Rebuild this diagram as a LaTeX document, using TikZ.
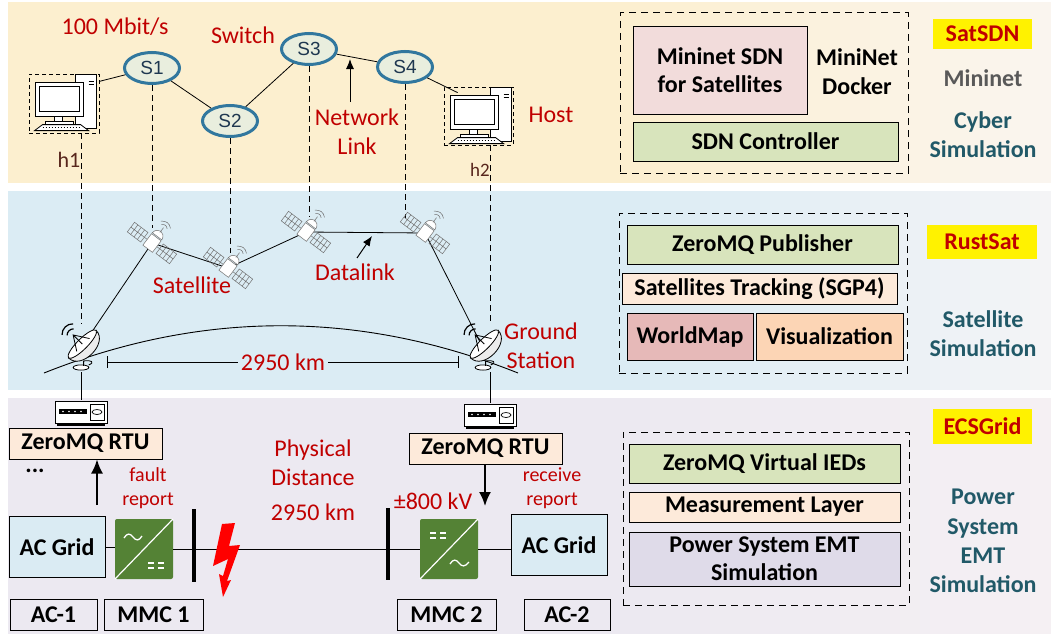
\documentclass[tikz,border=0pt]{standalone}
\usepackage{fontspec}
\setmainfont{Carlito}
\newfontfamily\arialfont{Liberation Sans}
\usepackage{tikz}
\usepackage{xcolor}
\usetikzlibrary{shapes.geometric}
\usetikzlibrary{arrows.meta}

\definecolor{cyberbg}{RGB}{252,239,207}
\definecolor{cyberfade}{RGB}{250,245,240}
\definecolor{satbg}{RGB}{219,236,244}
\definecolor{satfade}{RGB}{244,244,246}
\definecolor{gridbg}{RGB}{236,233,241}
\definecolor{gridfade}{RGB}{245,240,243}
\definecolor{txtred}{RGB}{192,0,0}
\definecolor{simteal}{RGB}{33,89,104}
\definecolor{minigray}{RGB}{89,89,89}
\definecolor{hostbrown}{RGB}{88,38,28}
\definecolor{swblue}{RGB}{49,119,158}
\definecolor{swfill}{RGB}{233,238,222}
\definecolor{swtext}{RGB}{30,55,80}
\definecolor{boxgreen}{RGB}{216,228,188}
\definecolor{boxpink}{RGB}{242,220,219}
\definecolor{boxpeach}{RGB}{253,234,218}
\definecolor{boxrose}{RGB}{230,185,184}
\definecolor{boxtan}{RGB}{252,213,181}
\definecolor{boxlilac}{RGB}{223,219,233}
\definecolor{acblue}{RGB}{218,235,243}
\definecolor{mmcgreen}{RGB}{84,130,53}
\definecolor{boltred}{RGB}{255,0,0}
\definecolor{satgray}{RGB}{110,110,110}

\tikzset{
  lbl/.style={text=txtred, font=\fontsize{24}{29}\selectfont, align=center, inner sep=0pt},
  smalllbl/.style={lbl, font=\fontsize{20}{24}\selectfont},
  blk/.style={draw, line width=1pt, font=\bfseries\fontsize{24}{28}\selectfont, align=center, inner sep=0pt},
  blktxt/.style={font=\bfseries\fontsize{24}{29}\selectfont, align=center, inner sep=0pt},
  dashframe/.style={draw, dash pattern=on 7pt off 5pt, line width=1pt, inner sep=0pt},
  projtag/.style={fill=yellow, text=txtred, font=\bfseries\fontsize{24}{28}\selectfont, inner sep=0pt},
  simlbl/.style={text=simteal, font=\bfseries\fontsize{24}{29.3}\selectfont, align=center, inner sep=0pt},
  switchnode/.style={ellipse, draw=swblue, line width=3pt, fill=swfill, minimum width=55pt,
    minimum height=31pt, inner sep=0pt, text=swtext, font=\arialfont\fontsize{19}{20}\selectfont},
  pcbox/.style={draw, dash pattern=on 4pt off 3pt, line width=0.8pt, minimum width=70pt,
    minimum height=59pt, inner sep=0pt},
  satspot/.style={circle, minimum size=30pt, inner sep=0pt},
  dishspot/.style={circle, minimum size=48pt, inner sep=0pt},
  rtuspot/.style={minimum width=52pt, minimum height=25pt, inner sep=0pt},
  mmc/.style={fill=mmcgreen, rounded corners=2pt, minimum width=58pt, minimum height=60pt, inner sep=0pt},
  acbox/.style={blk, fill=acblue, minimum width=96pt, minimum height=61pt},
  unitlbl/.style={blk, minimum height=31pt},
  link/.style={line width=0.8pt},
  dropline/.style={dash pattern=on 6pt off 4pt, line width=0.9pt},
  bigarrow/.style={-{Latex[length=14pt,width=12pt]}, line width=2pt},
  thinarrow/.style={-{Latex[length=10pt,width=8pt]}, line width=1pt},
}

% desktop computer, drawn from the top left corner of its node
\newcommand{\pcicon}[1]{%
  \begin{scope}[shift={(#1.north west)}]
    \filldraw[fill=white, line width=0.8pt] (47,1) rectangle (68,55);
    \draw[line width=0.8pt] (60,8) -- (65,8) (60,11) -- (65,11);
    \filldraw[fill=white, line width=1.3pt] (7,9) rectangle (55,43);
    \draw[line width=0.8pt] (11,13) rectangle (51,38);
    \filldraw[fill=white, line width=0.8pt] (26,43) rectangle (34,48);
    \filldraw[fill=white, line width=0.8pt] (17,48) rectangle (45,51);
    \filldraw[fill=white, line width=0.8pt] (14,51) -- (52,51) -- (60,57) -- (6,57) -- cycle;
    \draw[dotted, line width=1pt] (14,54) -- (52,54);
  \end{scope}}

% satellite with two solar panels
\newcommand{\saticon}[1]{%
  \begin{scope}[shift={(#1)}, scale=1.2, rotate=-37, color=satgray, line width=0.5pt]
    \draw (-22,-5) rectangle (-8,5) (8,-5) rectangle (22,5);
    \draw (-18.5,-5) -- (-18.5,5) (-15,-5) -- (-15,5) (-11.5,-5) -- (-11.5,5) (-22,0) -- (-8,0);
    \draw (11.5,-5) -- (11.5,5) (15,-5) -- (15,5) (18.5,-5) -- (18.5,5) (8,0) -- (22,0);
    \draw (-8,0) -- (-5,0) (5,0) -- (8,0);
    \filldraw[fill=white] (-5,-6) rectangle (5,6);
    \filldraw[fill=white] (-5,-7) .. controls (-4,-14) and (4,-14) .. (5,-7) -- cycle;
    \draw (0,-11) -- (0,-16);
    \draw (-3,-17) .. controls (-1,-19) and (1,-19) .. (3,-17);
    \draw (-5,-19) .. controls (-2,-22) and (2,-22) .. (5,-19);
  \end{scope}}

% ground station dish
\newcommand{\dishicon}[1]{%
  \begin{scope}[shift={(#1)}, scale=1.3, line width=0.8pt]
    \draw (2,13) -- (2,10) .. controls (8,9) and (11,11) .. (6,13);
    \filldraw[fill=white] (0,15) ellipse [x radius=6pt, y radius=2pt];
    \draw (2,10) -- (2,13.5);
    \begin{scope}[shift={(1,-3)}, rotate=45]
      \filldraw[fill=gray!15] (-15,0) .. controls (-15,14) and (15,14) .. (15,0) -- cycle;
      \filldraw[fill=white] (0,0) ellipse [x radius=15pt, y radius=4pt];
      \draw (-7,1) -- (0,-10) -- (7,1) (0,0) -- (0,-10);
      \draw[line width=1.2pt] (-3.5,-13) .. controls (-2,-15) and (2,-15) .. (3.5,-13);
      \draw[line width=1.2pt] (-6,-16) .. controls (-3,-19.5) and (3,-19.5) .. (6,-16);
    \end{scope}
  \end{scope}}

% remote terminal unit box
\newcommand{\rtuicon}[1]{%
  \begin{scope}[shift={(#1)}]
    \fill (-24,10) rectangle (24,13);
    \filldraw[fill=white, line width=0.9pt] (-26,-12) rectangle (26,10);
    \fill (-22,-4) rectangle (6,1);
    \foreach \dx in {-18,-12,-6,0} \fill[white] (\dx,-1.5) circle (0.9pt);
    \draw[line width=0.8pt] (9,-9) rectangle (23,7);
    \draw[line width=0.7pt] (16,-1) ellipse [x radius=5pt, y radius=2.5pt];
  \end{scope}}

\begin{document}
\begin{tikzpicture}[x=1pt, y=-1pt]
    \useasboundingbox (0,0) rectangle (1051,634);

    % three layers, fading out to the right
    \fill[cyberbg] (8,2) rectangle (621,183);
    \fill[satbg] (8,191) rectangle (621,390);
    \fill[gridbg] (8,398) rectangle (621,634);
    \foreach \i [evaluate=\i as \p using \i*100/43] in {0,...,43} {
      \fill[cyberfade!\p!cyberbg] (620+\i*10,2) rectangle (631+\i*10,183);
      \fill[satfade!\p!satbg] (620+\i*10,191) rectangle (631+\i*10,390);
      \fill[gridfade!\p!gridbg] (620+\i*10,398) rectangle (631+\i*10,634);
    }

    % cyber layer
    \path (64,103.5) node [pcbox] (h1) {};
    \path (478.5,116) node [pcbox, minimum width=69pt, minimum height=58pt] (h2) {};
    \path (152,68) node [switchnode] (s1) {S1};
    \path (230,121) node [switchnode] (s2) {S2};
    \path (309,49) node [switchnode] (s3) {S3};
    \path (405,67) node [switchnode] (s4) {S4};
    \draw [link] (h1.32) -- (s1);
    \draw [link] (s1) -- (s2);
    \draw [link] (s2) -- (s3);
    \draw [link] (s3) -- (s4);
    \draw [link] (s4) -- ([shift={(14,6)}]h2.north west);
    \pcicon{h1}
    \pcicon{h2}
    \path (115,27) node [lbl] (rate) {100 Mbit/s};
    \path (243,35) node [lbl] (swlbl) {Switch};
    \path (551,115) node [lbl] (hostlbl) {Host};
    \path (357,131.5) node [lbl] (netlink) {Network\\Link};
    \coordinate (nltail) at (350,102);
    \coordinate (nlhead) at (350,59);
    \draw [thinarrow] (nltail) -- (nlhead);
    \path (69,160) node [lbl, text=hostbrown, font=\fontsize{22}{24}\selectfont] (h1lbl) {h1};
    \path (480,170) node [lbl, text=hostbrown, font=\fontsize{19}{22}\selectfont] (h2lbl) {h2};

    \path (764,93) node [dashframe, minimum width=288pt, minimum height=160pt] (cyberframe) {};
    \path (720,70.5) node [blk, fill=boxpink, minimum width=174pt, minimum height=87pt] (mnsdn) {Mininet SDN\\for Satellites};
    \path (857,72) node [blktxt] (docker) {MiniNet\\Docker};
    \path (765.5,141.5) node [blk, fill=boxgreen, minimum width=265pt, minimum height=39pt] (sdnctrl) {SDN Controller};
    \path (982.5,34) node [projtag, minimum width=99pt, minimum height=30pt] (satsdn) {SatSDN};
    \path (983,78) node [simlbl, text=minigray] (mininet) {Mininet};
    \path (983,134.5) node [simlbl] (cybersim) {Cyber\\Simulation};

    % satellite layer
    \draw [line width=0.9pt] (44,373) .. controls (202,310) and (360,310) .. (518,373);
    \coordinate (kmL) at (107,362);
    \coordinate (kmR) at (459,362);
    \draw [{Bar[width=12pt]}-{Bar[width=12pt]}, line width=0.9pt] (kmL) -- (kmR)
        node [midway, lbl, fill=satbg, inner xsep=3pt] (kmlbl) {2950 km};
    \path (152,243) node [satspot] (sat1) {};
    \path (228,268) node [satspot] (sat2) {};
    \path (306,232) node [satspot] (sat3) {};
    \path (425,233) node [satspot] (sat4) {};
    \path (81,348) node [dishspot] (gs1) {};
    \path (483,348) node [dishspot] (gs2) {};
    \path (81,413) node [rtuspot] (rtuic1) {};
    \path (490,416) node [rtuspot] (rtuic2) {};
    \draw [dropline] (h1.south -| gs1.north) -- (gs1.north);
    \draw [dropline] (s1.south) -- (s1.south |- sat1.north);
    \draw [dropline] (s2.south) -- (s2.south |- sat2.north);
    \draw [dropline] (s3.south) -- (s3.south |- sat3.north);
    \draw [dropline] (s4.south) -- (s4.south |- sat4.north);
    \draw [dropline] (h2.south -| rtuic2.north) -- (gs2.north -| rtuic2.north);
    \draw [link] (gs1.center) -- (sat1.center) -- (sat2.center) -- (sat3.center)
        -- (sat4.center) -- (gs2.center);
    \saticon{sat1}
    \saticon{sat2}
    \saticon{sat3}
    \saticon{sat4}
    \dishicon{gs1}
    \dishicon{gs2}
    \path (192,285) node [lbl] (satlbl) {Satellite};
    \path (355,272) node [lbl] (dlink) {Datalink};
    \coordinate (dltail) at (357,258);
    \coordinate (dlhead) at (372,236);
    \draw [thinarrow] (dltail) -- (dlhead);
    \path (541,346) node [lbl] (gslbl) {Ground\\Station};

    \path (763,293) node [dashframe, minimum width=288pt, minimum height=160pt] (satframe) {};
    \path (762.5,244.5) node [blk, fill=boxgreen, minimum width=271pt, minimum height=39pt] (zmqpub) {ZeroMQ Publisher};
    \path (759.5,288.5) node [blk, fill=boxpeach, minimum width=275pt, minimum height=31pt] (sgp4) {Satellites Tracking (SGP4)};
    \path (690,336.5) node [blk, fill=boxrose, minimum width=126pt, minimum height=47pt] (wmap) {WorldMap};
    \path (829.5,336.5) node [blk, fill=boxtan, minimum width=147pt, minimum height=47pt] (visual) {Visualization};
    \path (982,242) node [projtag, minimum width=110pt, minimum height=34pt] (rustsat) {RustSat};
    \path (983,334) node [simlbl] (satsim) {Satellite\\Simulation};

    % power system layer
    \draw [link] (gs1.south) -- (rtuic1.north);
    \draw [link] (gs2.south -| rtuic2.north) -- (rtuic2.north);
    \rtuicon{rtuic1}
    \rtuicon{rtuic2}
    \path (85.5,443.5) node [blk, fill=boxpeach, minimum width=153pt, minimum height=31pt] (rtu1) {ZeroMQ RTU};
    \path (485.5,448.5) node [blk, fill=boxpeach, minimum width=153pt, minimum height=31pt] (rtu2) {ZeroMQ RTU};
    \path (35,471) node [blktxt] (more) {...};

    \path (57,547) node [acbox] (acgrid1) {AC Grid};
    \path (144,549) node [mmc] (mmc1) {};
    \path (449,549) node [mmc] (mmc2) {};
    \path (559,545) node [acbox] (acgrid2) {AC Grid};
    \path (194,545.5) node [fill=black, minimum width=4pt, minimum height=73pt, inner sep=0pt] (bus1) {};
    \path (388,544) node [fill=black, minimum width=4pt, minimum height=72pt, inner sep=0pt] (bus2) {};
    \draw [link] (acgrid1.east) -- (acgrid1.east -| mmc1.west);
    \draw [link] (mmc1.east) -- (mmc1.east -| mmc2.west);
    \draw [link] (mmc2.east) -- (mmc2.east -| acgrid2.west);

    \begin{scope}[shift={(mmc1.center)}, white]
      \draw [line width=1.2pt] (-29,30) -- (29,-30);
      \draw [line width=1.3pt] (-20,-11) .. controls (-17,-16) and (-14,-16) .. (-11,-12)
          .. controls (-8,-8) and (-5,-8) .. (-2,-13);
      \draw [line width=1.5pt] (4,14) -- (10,14) (14,14) -- (20,14) (4,19) -- (10,19) (14,19) -- (20,19);
    \end{scope}
    \begin{scope}[shift={(mmc2.center)}, white]
      \draw [line width=1.2pt] (-29,30) -- (29,-30);
      \draw [line width=1.5pt] (-19,-16) -- (-13,-16) (-9,-16) -- (-3,-16) (-19,-11) -- (-13,-11) (-9,-11) -- (-3,-11);
      \draw [line width=1.3pt] (1,15) .. controls (4,10) and (7,10) .. (10,14)
          .. controls (13,18) and (16,18) .. (20,13);
    \end{scope}

    \fill [boltred] (222,524) -- (235,523) -- (229,546) -- (240,545) -- (227,581) -- (231,580)
        -- (223,597) -- (219,574) -- (223,576) -- (228,559) -- (213,566) -- cycle;

    \coordinate (faultsrc) at (97,505);
    \draw [bigarrow] (faultsrc) -- (faultsrc |- rtu1.south);
    \coordinate (recvdst) at (485,506);
    \draw [bigarrow] (rtu2.south -| recvdst) -- (recvdst);
    \path (148,488) node [smalllbl] (fault) {fault\\report};
    \path (552,488) node [smalllbl] (recv) {receive\\report};
    \path (433,501) node [lbl] (volt) {±800 kV};
    \path (313,462.5) node [lbl] (physdist) {Physical\\Distance};
    \path (313,512) node [lbl] (physkm) {2950 km};

    \path (53.5,614.5) node [unitlbl, minimum width=87pt] (ac1) {AC-1};
    \path (153.5,614.5) node [unitlbl, minimum width=99pt] (mmc1lbl) {MMC 1};
    \path (446.5,614.5) node [unitlbl, minimum width=99pt] (mmc2lbl) {MMC 2};
    \path (567,614.5) node [unitlbl, minimum width=86pt] (ac2) {AC-2};

    \path (766,518.5) node [dashframe, minimum width=286pt, minimum height=173pt] (gridframe) {};
    \path (764.5,463.5) node [blk, fill=boxgreen, minimum width=271pt, minimum height=39pt] (zmqied) {ZeroMQ Virtual IEDs};
    \path (764.5,507) node [blk, fill=boxpeach, minimum width=271pt, minimum height=30pt] (measure) {Measurement Layer};
    \path (764.5,559) node [blk, fill=boxlilac, minimum width=271pt, minimum height=54pt] (emt) {Power System EMT\\Simulation};
    \path (982.5,426.5) node [projtag, minimum width=99pt, minimum height=35pt] (ecsgrid) {ECSGrid};
    \path (983,541) node [simlbl] (pssim) {Power\\System\\EMT\\Simulation};
\end{tikzpicture}
\end{document}
